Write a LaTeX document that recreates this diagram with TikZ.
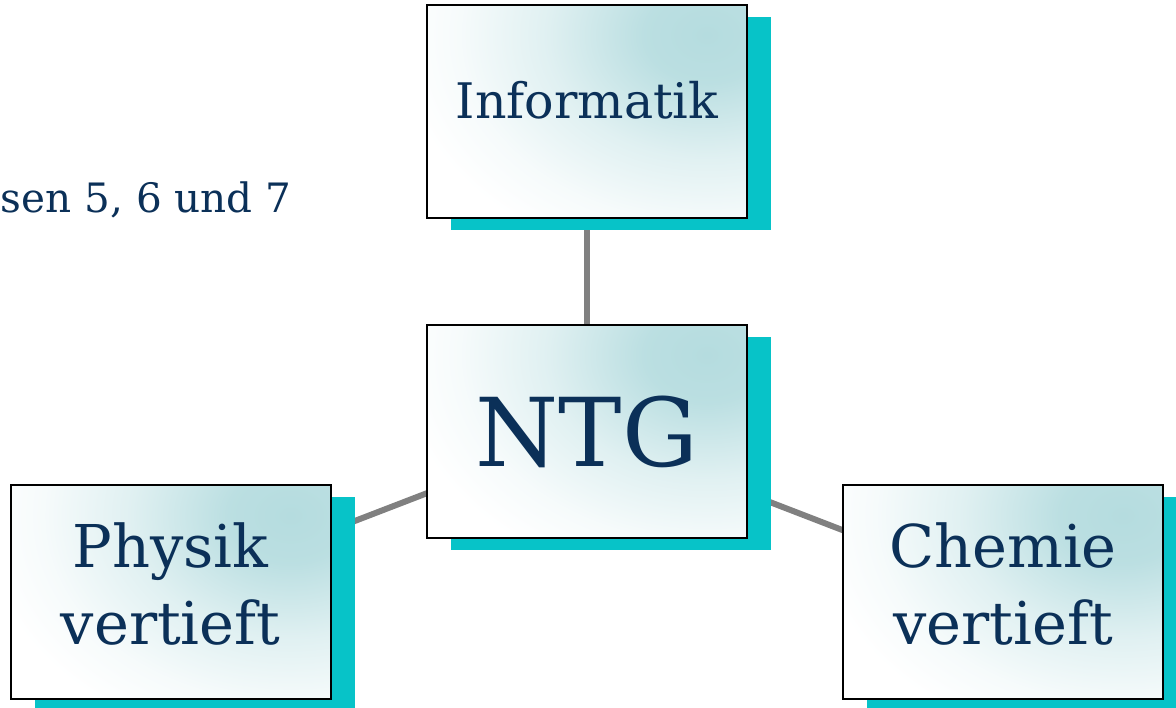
\documentclass[tikz,border=0pt]{standalone}
\usepackage{fontspec}
\setmainfont{DejaVu Serif}
\usetikzlibrary{shadows, backgrounds}

\definecolor{navy}{HTML}{0B3058}
\definecolor{shadowteal}{HTML}{07C3C8}
\definecolor{lightteal}{HTML}{B5DCDF}
\definecolor{linegray}{HTML}{808080}

\pgfdeclareradialshading{fachglow}{\pgfpoint{0bp}{0bp}}{color(0bp)=(lightteal); color(5bp)=(lightteal!92!white);
  color(13bp)=(lightteal!42!white); color(20bp)=(lightteal!12!white); color(25bp)=(white); color(50bp)=(white)}

\begin{document}
\begin{tikzpicture}[x=1pt, y=-1pt,
    fachbox/.style={rectangle, draw=black, line width=2pt, minimum width=320pt, minimum height=213pt,
      inner sep=0pt, text=navy, align=center, fill=white,
      path picture={\shade[shading=fachglow]
        ([xshift=-40pt, yshift=-30pt]path picture bounding box.north east) ellipse (310pt and 235pt);},
      general shadow={shadow xshift=24pt, shadow yshift=-12pt, fill=shadowteal, draw=none}},
    verbindung/.style={draw=linegray, line width=6pt}]
    \useasboundingbox (0,0) rectangle (1176,708);

    % Nodes
    \node (ntg) [fachbox, font=\fontsize{95}{100}\selectfont] at (587,431.5) {NTG};
    \node (informatik) [fachbox, font=\fontsize{49}{58}\selectfont, text depth=24pt] at (587,111.5) {Informatik};
    \node (physik) [fachbox, font=\fontsize{59}{77}\selectfont, text depth=16pt] at (170.5,592) {Physik\\vertieft};
    \node (chemie) [fachbox, font=\fontsize{59}{77}\selectfont, text depth=16pt] at (1003,592) {Chemie\\vertieft};
    \node (klassen) [anchor=base east, text=navy, font=\fontsize{40.5}{50}\selectfont] at (295,213) {sen 5, 6 und 7};

    % Lines
    \begin{scope}[on background layer]
        \draw[verbindung] (ntg.center) -- (informatik.center);
        \draw[verbindung] (ntg.center) -- (physik.center);
        \draw[verbindung] (ntg.center) -- (chemie.center);
    \end{scope}
\end{tikzpicture}
\end{document}
